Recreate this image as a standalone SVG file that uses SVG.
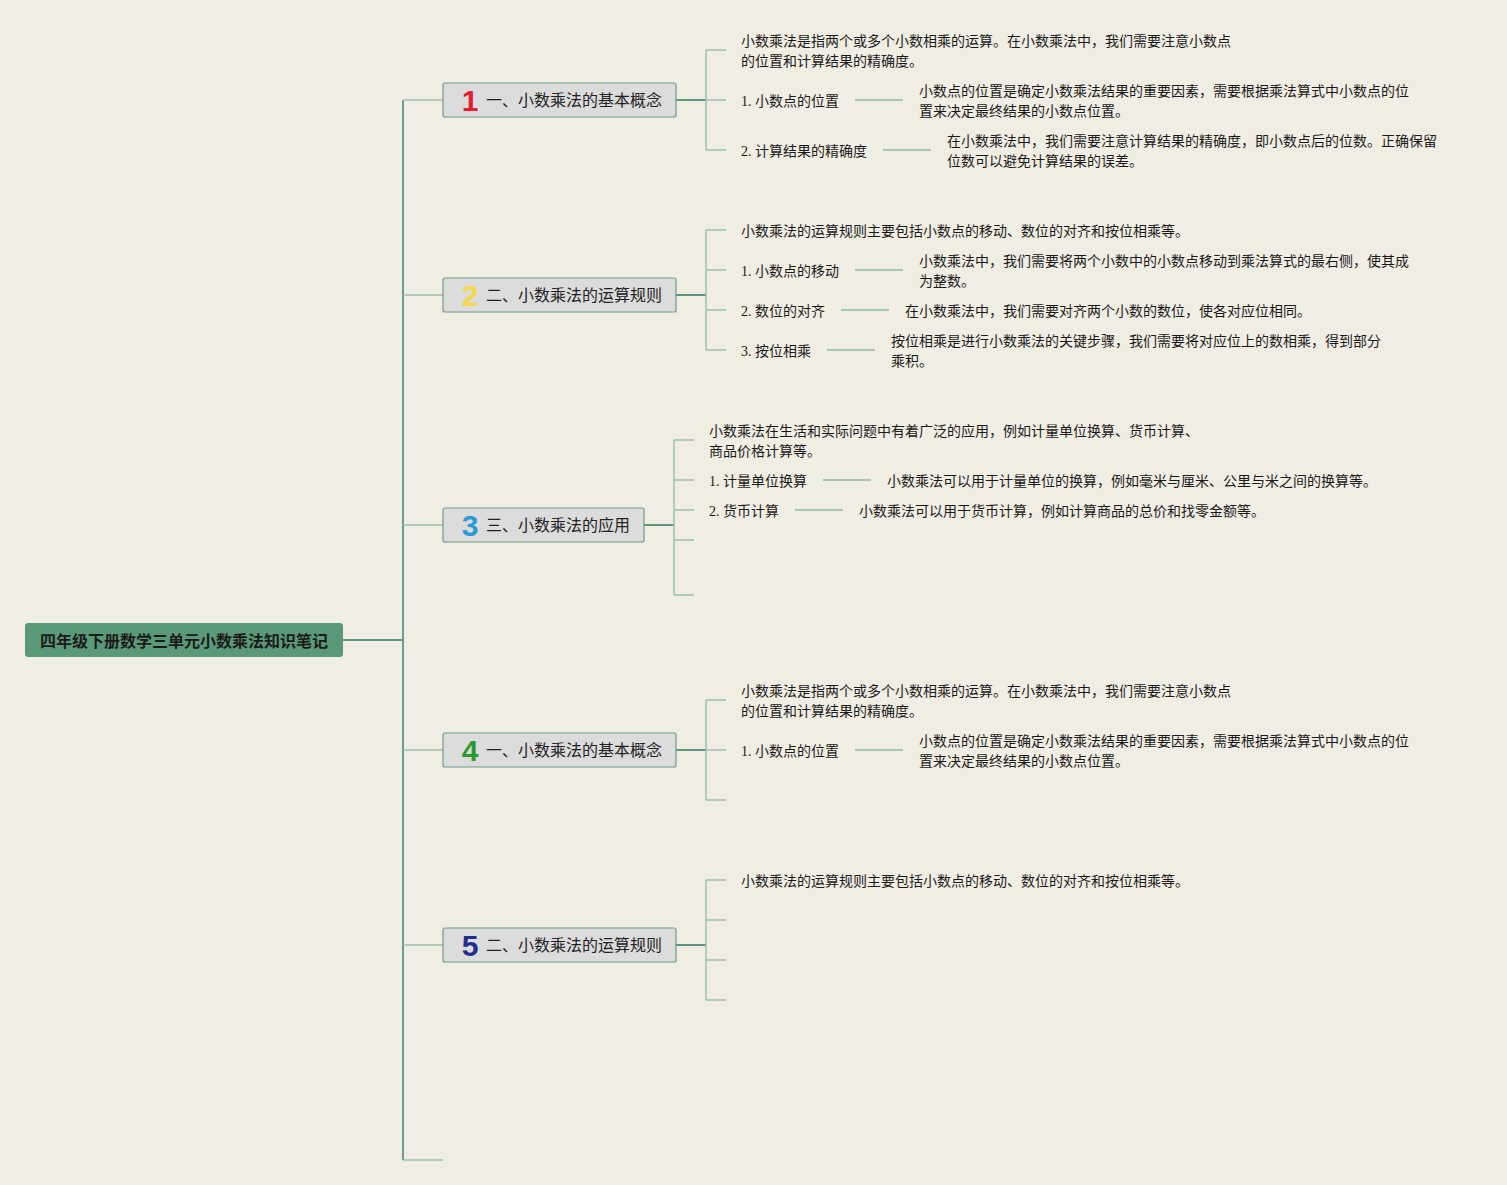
<svg xmlns="http://www.w3.org/2000/svg" width="1507" height="1185" viewBox="0 0 1507 1185">
<style>
.bg{fill:#f0ede3}
.trunk{stroke:#6b9e8e;stroke-width:2;fill:none}
.conn{stroke:#5e9482;stroke-width:2;fill:none}
.tick{stroke:#9dc0ad;stroke-width:1.5;fill:none}
.lead{stroke:#a8c8b4;stroke-width:2;fill:none}
.root{fill:#5a9a78}
.rootT{font-family:"Noto Sans CJK SC",sans-serif;font-size:16px;font-weight:bold;fill:#1a1a1a}
.box{fill:#dcdcdc;stroke:#6a9e8a;stroke-width:1.2}
.boxT{font-family:"Noto Sans CJK SC",sans-serif;font-size:16px;fill:#222}
.num{font-family:"Liberation Sans",sans-serif;font-size:30px;font-weight:bold}
.t{font-family:"Liberation Serif","Noto Sans CJK SC",serif;font-size:14px;fill:#1a1a1a}
</style>
<rect class="bg" x="0" y="0" width="1507" height="1185"/>
<g id="connectors">
  <path class="conn" d="M343 640 H403"/>
  <path class="trunk" d="M403 100 V1160"/>
  <path class="tick" d="M403 100 H443 M403 295 H443 M403 525 H443 M403 750 H443 M403 945 H443 M403 1160 H443"/>
  <!-- node1 -->
  <path class="conn" d="M676 100 H706"/>
  <path class="tick" d="M706 50 V150 M706 50 H726 M706 100 H726 M706 150 H726"/>
  <path class="lead" d="M855 100 H903 M883 150 H931"/>
  <!-- node2 -->
  <path class="conn" d="M676 295 H706"/>
  <path class="tick" d="M706 230 V350 M706 230 H726 M706 270 H726 M706 310 H726 M706 350 H726"/>
  <path class="lead" d="M855 270 H903 M841 310 H889 M827 350 H875"/>
  <!-- node3 -->
  <path class="conn" d="M644 525 H674"/>
  <path class="tick" d="M674 440 V595 M674 440 H694 M674 480 H694 M674 510 H694 M674 540 H694 M674 595 H694"/>
  <path class="lead" d="M823 480 H871 M795 510 H843"/>
  <!-- node4 -->
  <path class="conn" d="M676 750 H706"/>
  <path class="tick" d="M706 700 V800 M706 700 H726 M706 750 H726 M706 800 H726"/>
  <path class="lead" d="M855 750 H903"/>
  <!-- node5 -->
  <path class="conn" d="M676 945 H706"/>
  <path class="tick" d="M706 880 V1000 M706 880 H726 M706 920 H726 M706 960 H726 M706 1000 H726"/>
</g>
<g id="root">
  <rect class="root" x="25" y="623" width="318" height="34" rx="3"/>
  <text class="rootT" x="184" y="646.5" text-anchor="middle">四年级下册数学三单元小数乘法知识笔记</text>
</g>
<g id="node1">
  <rect class="box" x="443" y="83" width="233" height="34" rx="2"/>
  <text class="num" x="470" y="111" text-anchor="middle" fill="#e0202a">1</text>
  <text class="boxT" x="486" y="106">一、小数乘法的基本概念</text>
</g>
<g id="node1-texts">
  <text class="t" x="741" y="46">小数乘法是指两个或多个小数相乘的运算。在小数乘法中，我们需要注意小数点</text>
  <text class="t" x="741" y="66">的位置和计算结果的精确度。</text>
  <text class="t" x="741" y="106">1. 小数点的位置</text>
  <text class="t" x="919" y="96">小数点的位置是确定小数乘法结果的重要因素，需要根据乘法算式中小数点的位</text>
  <text class="t" x="919" y="116">置来决定最终结果的小数点位置。</text>
  <text class="t" x="741" y="156">2. 计算结果的精确度</text>
  <text class="t" x="947" y="146">在小数乘法中，我们需要注意计算结果的精确度，即小数点后的位数。正确保留</text>
  <text class="t" x="947" y="166">位数可以避免计算结果的误差。</text>
</g>
<g id="node2">
  <rect class="box" x="443" y="278" width="233" height="34" rx="2"/>
  <text class="num" x="470" y="306" text-anchor="middle" fill="#f3d84a">2</text>
  <text class="boxT" x="486" y="301">二、小数乘法的运算规则</text>
</g>
<g id="node2-texts">
  <text class="t" x="741" y="236">小数乘法的运算规则主要包括小数点的移动、数位的对齐和按位相乘等。</text>
  <text class="t" x="741" y="276">1. 小数点的移动</text>
  <text class="t" x="919" y="266">小数乘法中，我们需要将两个小数中的小数点移动到乘法算式的最右侧，使其成</text>
  <text class="t" x="919" y="286">为整数。</text>
  <text class="t" x="741" y="316">2. 数位的对齐</text>
  <text class="t" x="905" y="316">在小数乘法中，我们需要对齐两个小数的数位，使各对应位相同。</text>
  <text class="t" x="741" y="356">3. 按位相乘</text>
  <text class="t" x="891" y="346">按位相乘是进行小数乘法的关键步骤，我们需要将对应位上的数相乘，得到部分</text>
  <text class="t" x="891" y="366">乘积。</text>
</g>
<g id="node3">
  <rect class="box" x="443" y="508" width="201" height="34" rx="2"/>
  <text class="num" x="470" y="536" text-anchor="middle" fill="#2a9ad8">3</text>
  <text class="boxT" x="486" y="531">三、小数乘法的应用</text>
</g>
<g id="node3-texts">
  <text class="t" x="709" y="436">小数乘法在生活和实际问题中有着广泛的应用，例如计量单位换算、货币计算、</text>
  <text class="t" x="709" y="456">商品价格计算等。</text>
  <text class="t" x="709" y="486">1. 计量单位换算</text>
  <text class="t" x="887" y="486">小数乘法可以用于计量单位的换算，例如毫米与厘米、公里与米之间的换算等。</text>
  <text class="t" x="709" y="516">2. 货币计算</text>
  <text class="t" x="859" y="516">小数乘法可以用于货币计算，例如计算商品的总价和找零金额等。</text>
</g>
<g id="node4">
  <rect class="box" x="443" y="733" width="233" height="34" rx="2"/>
  <text class="num" x="470" y="761" text-anchor="middle" fill="#2a9a30">4</text>
  <text class="boxT" x="486" y="756">一、小数乘法的基本概念</text>
</g>
<g id="node4-texts">
  <text class="t" x="741" y="696">小数乘法是指两个或多个小数相乘的运算。在小数乘法中，我们需要注意小数点</text>
  <text class="t" x="741" y="716">的位置和计算结果的精确度。</text>
  <text class="t" x="741" y="756">1. 小数点的位置</text>
  <text class="t" x="919" y="746">小数点的位置是确定小数乘法结果的重要因素，需要根据乘法算式中小数点的位</text>
  <text class="t" x="919" y="766">置来决定最终结果的小数点位置。</text>
</g>
<g id="node5">
  <rect class="box" x="443" y="928" width="233" height="34" rx="2"/>
  <text class="num" x="470" y="956" text-anchor="middle" fill="#1e2e8a">5</text>
  <text class="boxT" x="486" y="951">二、小数乘法的运算规则</text>
</g>
<g id="node5-texts">
  <text class="t" x="741" y="886">小数乘法的运算规则主要包括小数点的移动、数位的对齐和按位相乘等。</text>
</g>
</svg>
